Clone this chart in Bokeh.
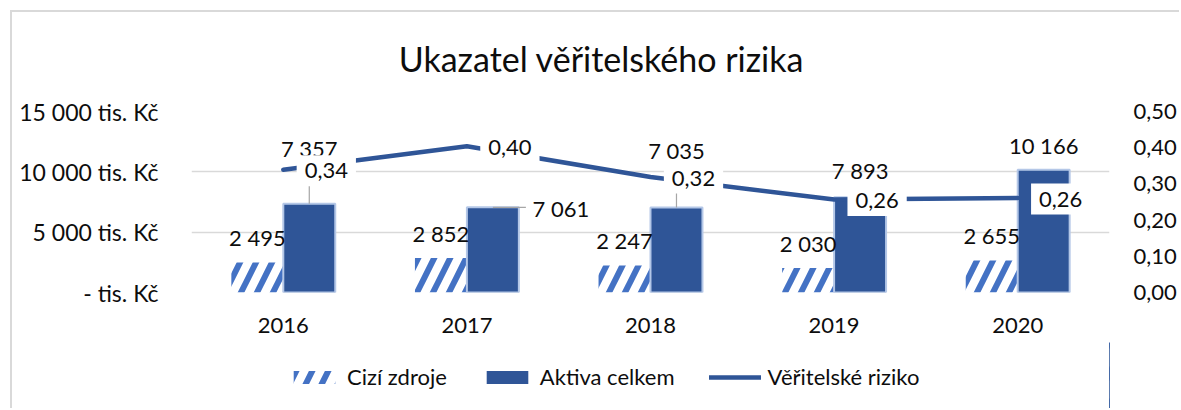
from bokeh.plotting import figure
from bokeh.layouts import column
from bokeh.models import (Range1d, LinearAxis, FixedTicker, Legend, LegendItem,
                          Label, ColumnDataSource)
from bokeh.transform import dodge
from bokeh.core.properties import value
from bokeh.embed import file_html
from bokeh.resources import INLINE

# ---- data ----
years = ["2016", "2017", "2018", "2019", "2020"]
cizi_zdroje = [2495, 2852, 2247, 2030, 2655]
aktiva_celkem = [7357, 7061, 7035, 7893, 10166]
veritelske_riziko = [0.339, 0.404, 0.319, 0.257, 0.261]
left_ticks = [0, 5000, 10000, 15000]
left_tick_labels = ["- tis. Kč", "5 000 tis. Kč", "10 000 tis. Kč", "15 000 tis. Kč"]
right_ticks = [0.0, 0.1, 0.2, 0.3, 0.4, 0.5]
right_tick_labels = ["0,00", "0,10", "0,20", "0,30", "0,40", "0,50"]
series_names = ["Cizí zdroje", "Aktiva celkem", "Věřitelské riziko"]
title_text = "Ukazatel věřitelského rizika"

# ---- label placement (pixel offsets, layout only) ----
aktiva_dx = [0, 68, 0, 0, 0]
aktiva_dy = [-55, 1, -57, -27, -24]
leader_len_px = [30, 0, 30, 0, 0]
side_leader_px = 33

FONT = "Lato"
TXT = "#0d0d0d"
BLUE = "#2F5597"
HATCH = "#4472C4"
BAR_W = 0.283
FRAME_W, FRAME_H = 918, 181
Y_MAX = 15000
BL, BR = 179, 70
TITLE_H, MAIN_TOP, MAIN_BOTTOM, LEG_H = 80, 19, 50, 66

def fmt_thousands(v):
    return f"{v:,}".replace(",", " ")

src = ColumnDataSource(dict(
    year=years,
    cizi=cizi_zdroje,
    aktiva=aktiva_celkem,
    riziko=veritelske_riziko,
    cizi_lbl=[fmt_thousands(v) for v in cizi_zdroje],
    aktiva_lbl=[fmt_thousands(v) for v in aktiva_celkem],
    riziko_lbl=[f"{v:.2f}".replace(".", ",") for v in veritelske_riziko],
    adx=aktiva_dx,
    ady=aktiva_dy,
    lead_y1=[a + l * Y_MAX / FRAME_H for a, l in zip(aktiva_celkem, leader_len_px)],
))

def strip(h):
    fig = figure(frame_width=FRAME_W, frame_height=h,
                 min_border_left=BL, min_border_right=BR,
                 min_border_top=0, min_border_bottom=0,
                 x_range=Range1d(0, FRAME_W), y_range=Range1d(0, h),
                 output_backend="svg", toolbar_location=None, tools="")
    fig.outline_line_color = None
    fig.axis.visible = False
    fig.grid.visible = False
    fig.background_fill_color = "white"
    fig.border_fill_color = "white"
    return fig

# ---- title strip ----
p0 = strip(TITLE_H)
p0.add_layout(Label(x=410, y=34, text=title_text, text_align="center",
                    text_baseline="middle", text_font=FONT, text_font_size="34px",
                    text_color=TXT))

# ---- main chart ----
p = figure(x_range=years, y_range=Range1d(0, Y_MAX),
           frame_width=FRAME_W, frame_height=FRAME_H,
           min_border_left=BL, min_border_right=BR,
           min_border_top=MAIN_TOP, min_border_bottom=MAIN_BOTTOM,
           output_backend="svg", toolbar_location=None, tools="")
p.outline_line_color = None
p.background_fill_color = "white"
p.border_fill_color = "white"
p.extra_y_ranges = {"right": Range1d(0, 0.5)}

p.xgrid.grid_line_color = None
p.ygrid.grid_line_color = "#D9D9D9"
p.ygrid.grid_line_width = 1.5
p.ygrid.ticker = FixedTicker(ticks=left_ticks)

ax = p.yaxis[0]
ax.ticker = FixedTicker(ticks=left_ticks)
ax.major_label_overrides = {t: l for t, l in zip(left_ticks, left_tick_labels)}
ax.axis_line_color = None
ax.major_tick_line_color = None
ax.minor_tick_line_color = None
ax.major_label_standoff = 27
ax.major_label_text_font = FONT
ax.major_label_text_font_size = "23px"
ax.major_label_text_color = TXT

rax = LinearAxis(y_range_name="right", ticker=FixedTicker(ticks=right_ticks))
rax.major_label_overrides = {t: l for t, l in zip(right_ticks, right_tick_labels)}
rax.axis_line_color = None
rax.major_tick_line_color = None
rax.minor_tick_line_color = None
rax.major_label_standoff = 18
rax.major_label_text_font = FONT
rax.major_label_text_font_size = "22px"
rax.major_label_text_color = TXT
p.add_layout(rax, "right")

xa = p.xaxis[0]
xa.axis_line_color = None
xa.major_tick_line_color = None
xa.minor_tick_line_color = None
xa.major_label_standoff = 19
xa.major_label_text_font = FONT
xa.major_label_text_font_size = "22px"
xa.major_label_text_color = TXT

cizi_style = dict(fill_color="white", line_color=None, hatch_pattern="/",
                  hatch_color=HATCH, hatch_scale=32, hatch_weight=6)
akt_style = dict(fill_color=BLUE, line_color="#B4C7E7", line_width=2)
line_style = dict(line_color=BLUE, line_width=4.5, line_cap="round", line_join="round")

p.vbar(x=dodge("year", -BAR_W / 2, range=p.x_range), top="cizi", width=BAR_W,
       source=src, **cizi_style)
p.vbar(x=dodge("year", BAR_W / 2, range=p.x_range), top="aktiva", width=BAR_W,
       source=src, **akt_style)

# leader lines
p.segment(x0=dodge("year", BAR_W / 2, range=p.x_range), y0="aktiva",
          x1=dodge("year", BAR_W / 2, range=p.x_range), y1="lead_y1",
          source=src, line_color="#A6A6A6", line_width=1.2)
src2 = ColumnDataSource(dict(year=[years[1]], aktiva=[aktiva_celkem[1]]))
p.segment(x0=dodge("year", BAR_W / 2, range=p.x_range), y0="aktiva",
          x1=dodge("year", BAR_W / 2 + side_leader_px / FRAME_W * len(years), range=p.x_range),
          y1="aktiva", source=src2, line_color="#A6A6A6", line_width=1.2)

# bar labels
p.text(x=dodge("year", -BAR_W / 2, range=p.x_range), y="cizi", text="cizi_lbl", source=src,
       y_offset=-25, text_align="center", text_baseline="middle",
       text_font=value(FONT), text_font_size="22px", text_color=TXT)
p.text(x=dodge("year", BAR_W / 2, range=p.x_range), y="aktiva", text="aktiva_lbl", source=src,
       x_offset="adx", y_offset="ady", text_align="center", text_baseline="middle",
       text_font=value(FONT), text_font_size="22px", text_color=TXT)

# line + labels
p.line(x="year", y="riziko", source=src, y_range_name="right", **line_style)
p.text(x="year", y="riziko", text="riziko_lbl", source=src, y_range_name="right",
       x_offset=43, y_offset=1, text_align="center", text_baseline="middle",
       text_font=value(FONT), text_font_size="22px", text_color=TXT,
       background_fill_color="white", padding=8)

# ---- legend strip: series renderers kept off-screen, only their swatches show ----
p2 = strip(LEG_H)
l1 = p2.vbar(x="cizi", top="cizi", width=1, source=src, **cizi_style)
l2 = p2.vbar(x="aktiva", top="aktiva", width=1, source=src, fill_color=BLUE, line_color=None)
l3 = p2.line(x="aktiva", y="riziko", source=src, **line_style)
legend = Legend(items=[LegendItem(label=series_names[0], renderers=[l1]),
                       LegendItem(label=series_names[1], renderers=[l2]),
                       LegendItem(label=series_names[2], renderers=[l3])],
                location=(97, 18), orientation="horizontal",
                border_line_color=None, background_fill_alpha=0,
                padding=0, margin=0, spacing=34, label_standoff=7,
                glyph_width=52, glyph_height=16,
                label_text_font=FONT, label_text_font_size="22px",
                label_text_color=TXT)
p2.add_layout(legend)

layout = column(p0, p, p2, spacing=0,
                styles={"border-top": "2px solid #D9D9D9", "border-left": "2px solid #D9D9D9",
                        "margin-left": "10px", "margin-top": "10px"})

open("out.html", "w").write(file_html(layout, INLINE))
